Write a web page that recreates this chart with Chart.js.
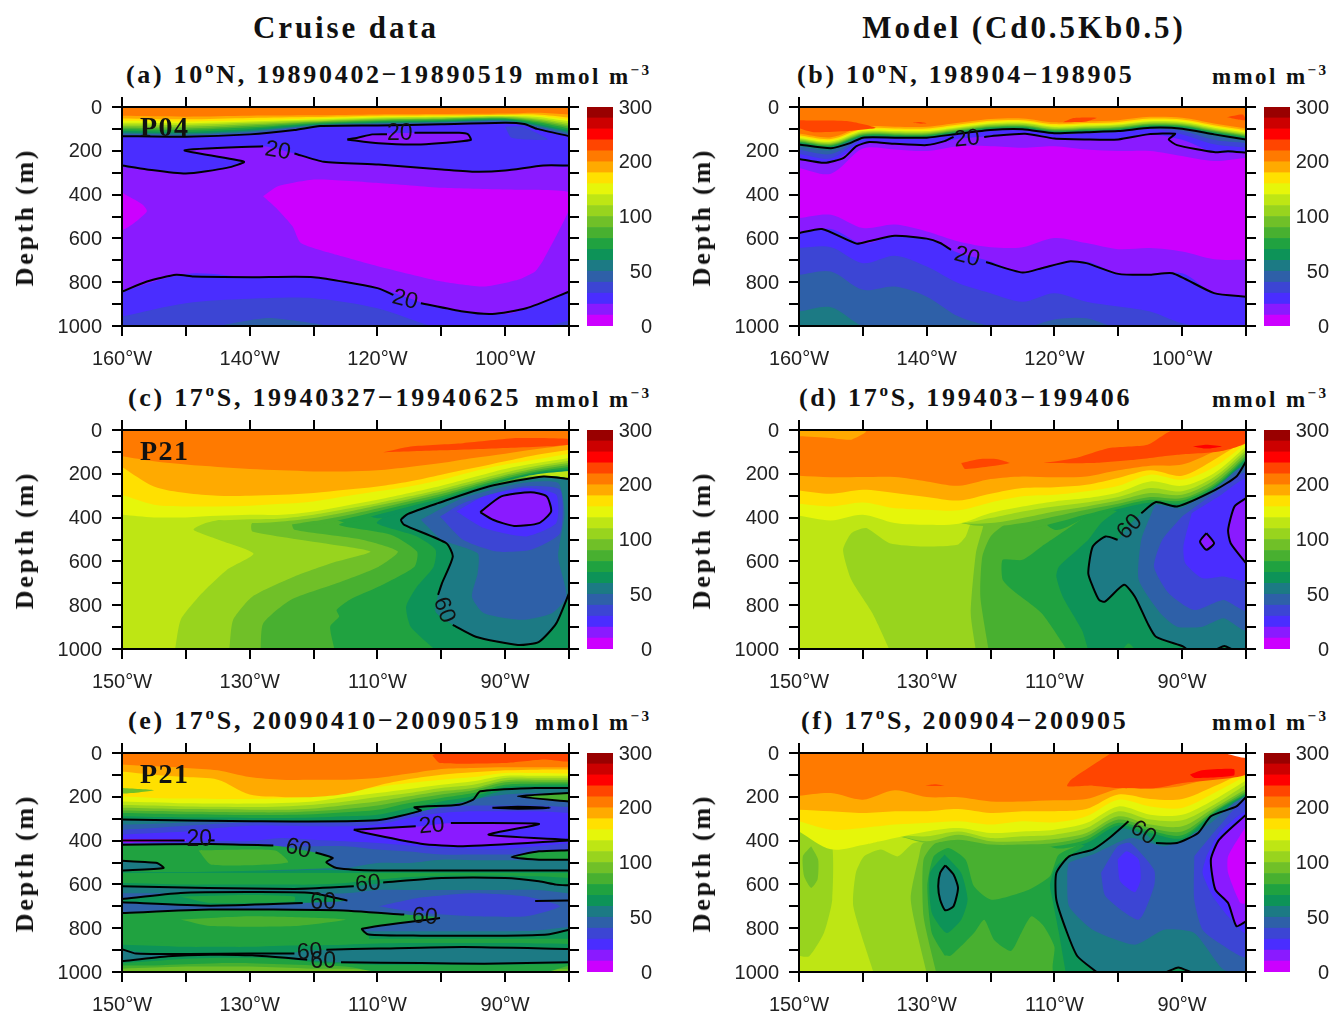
<!DOCTYPE html>
<html>
<head>
<meta charset="utf-8">
<title>Cruise data and model sections</title>
<script src="https://cdn.jsdelivr.net/npm/chart.js@4"></script>
<style>
  body { margin: 0; background: #fff; width: 1333px; height: 1012px; position: relative; overflow: hidden; }
  canvas { position: absolute; }
  .txt { position: absolute; white-space: nowrap; color: #111; font-family: "Liberation Serif", serif; line-height: 1; font-weight: bold; }
  .head { font-size: 31px; letter-spacing: 2.9px; }
  .ttl { font-size: 26px; letter-spacing: 2.7px; }
  .unit { font-size: 23px; letter-spacing: 2.4px; }
  .depth { font-size: 26px; letter-spacing: 2.8px; transform: translate(-50%, -50%) rotate(-90deg); }
  sup { font-size: 66%; line-height: 0; }
</style>
</head>
<body>
<script>
// colour bar: 20 bands, index 1 is the lowest
const bandColors = ['#ffffff', '#CC00FF', '#8A1AFF', '#4A2DFF', '#3C45D4', '#2E60A8', '#1C7A84', '#0D9358', '#20A240', '#48B030',
  '#70C028', '#98D41E', '#BEE614', '#E6F60A', '#FFE000', '#FFAA00', '#FF7A00', '#FF4500', '#FF0000', '#CC0000', '#990000'];
const barTicks = ['0', '50', '100', '200', '300'];
const depthTicks = [0, 200, 400, 600, 800, 1000];

const T = 'top', B = 'bottom', S = 'shape';

// ---- panel a
const lonsA = [160, 150, 140, 130, 120, 110, 100, 95, 90];
const layersA = [
  [3, B, [843, 762, 777, 777, 827, 919, 945, 904, 843]],
  [4, B, [957, 896, 876, 873, 919, 1010, 1010, 1010, 975]],
  [5, S, [146, 1005, 137, 963, 127, 1005]],
  [1, S, [137.9, 408, 135.6, 362, 129.7, 331, 119.8, 347, 109.9, 369, 100, 377, 90, 389, 90, 469, 94, 698, 95.3, 751, 98, 789, 103.3, 820, 109.9, 797, 119.8, 728, 126.4, 675, 132, 621, 133.3, 545, 135.6, 469]],
  [1, S, [160, 392, 156.8, 445, 156.1, 476, 158.1, 530, 160, 560]],
  [3, S, [160, 0, 160, 267, 156.1, 285, 150, 304, 143.6, 278, 140.9, 250, 150.2, 198, 137.9, 179, 133, 212, 128.4, 250, 119.8, 263, 109.9, 285, 104.6, 296, 100, 290, 94, 267, 90, 267, 90, 0]],
  [2, S, [124.7, 148, 120.8, 125, 114.2, 118, 107.2, 118, 105.8, 125, 105.4, 151, 113.2, 171, 119.8, 166]],
  [4, S, [100, 90, 97.3, 90, 93.3, 148, 99, 140]],
  [4, T, [133, 136, 125, 95, 84, 79, 72, 100, 133]],
  [5, T, [128, 131, 119, 90, 80, 75, 68, 94, 127]],
  [6, T, [122, 126, 113, 86, 76, 71, 64, 88, 120]],
  [7, T, [116, 120, 107, 82, 72, 67, 60, 82, 113]],
  [8, T, [110, 113, 100, 78, 68, 63, 56, 76, 106]],
  [9, T, [102, 105, 93, 74, 64, 59, 53, 70, 98]],
  [10, T, [95, 98, 86, 70, 60, 55, 50, 64, 90]],
  [11, T, [88, 90, 79, 66, 56, 52, 47, 58, 82]],
  [12, T, [80, 82, 72, 62, 52, 48, 44, 52, 74]],
  [13, T, [72, 74, 66, 57, 48, 45, 41, 46, 66]],
  [14, T, [63, 66, 59, 52, 44, 42, 38, 40, 58]],
  [15, T, [52, 56, 50, 46, 40, 38, 35, 34, 48]],
  [16, T, [40, 44, 40, 38, 34, 32, 30, 26, 34]]
];
const contoursA = [
  [160, 133, 150, 136, 140, 125, 133, 105, 129, 87, 120, 84, 110, 79, 100, 72, 97, 78, 95, 100, 90, 133],
  [124.7, 148, 123.1, 140, 120.8, 125, 118.5, 124],
  [114.2, 118, 107.2, 118, 105.8, 125, 105.4, 151, 113.2, 171, 119.8, 166, 124.7, 148],
  [160, 267, 156.1, 285, 150, 304, 143.6, 278, 140.9, 250, 150.2, 198, 137.9, 179],
  [133, 212, 128.4, 250, 119.8, 263, 109.9, 285, 104.6, 296, 100, 290, 94, 267, 90, 267],
  [160, 843, 156.1, 797, 151.5, 766, 148.8, 774, 139.6, 777, 130, 777, 120, 827, 117.5, 858],
  [113.2, 896, 106.6, 934, 102, 945, 96.7, 919, 90, 843]
];
const labelsA = [['20', 116.5, 123, 0], ['20', 135.6, 201, 10], ['20', 115.7, 881, 15]];

// ---- panel b
const lonsB = [160, 155, 150, 145, 140, 135, 130, 125, 120, 115, 110, 105, 100, 95, 90];
const layersB = [
  [2, B, [507, 492, 553, 537, 568, 614, 640, 640, 598, 621, 649, 644, 660, 695, 698]],
  [3, B, [576, 557, 624, 588, 601, 667, 705, 756, 721, 705, 762, 766, 759, 850, 866]],
  [4, B, [644, 640, 713, 679, 728, 805, 850, 889, 850, 889, 911, 934, 988, 1010, 1010]],
  [5, B, [766, 751, 835, 820, 866, 957, 1000, 1010, 970, 965, 1010, 1010, 1010, 1010, 1010]],
  [6, B, [934, 914, 1000, 1010, 1010, 1010, 1010, 1010, 1010, 1010, 1010, 1010, 1010, 1010, 1010]],
  [2, T, [278, 305, 190, 194, 201, 179, 179, 186, 179, 194, 201, 201, 224, 247, 232]],
  [3, T, [237, 250, 170, 165, 174, 145, 133, 122, 144, 148, 148, 125, 150, 206, 206]],
  [4, T, [215, 235, 150, 145, 145, 125, 110, 106, 125, 120, 115, 100, 125, 170, 185]],
  [5, T, [195, 215, 145, 142, 142, 124, 108, 104, 123, 118, 113, 98, 108, 150, 165]],
  [6, T, [180, 197, 142, 141, 141, 123, 106, 103, 121, 116, 111, 96, 101, 132, 152]],
  [7, T, [167, 184, 136, 136, 136, 118, 101, 98, 116, 111, 106, 91, 95, 121, 144]],
  [8, T, [163, 180, 132, 132, 132, 114, 97, 94, 112, 107, 102, 87, 91, 117, 140]],
  [9, T, [159, 176, 128, 128, 128, 110, 93, 90, 108, 103, 98, 83, 87, 113, 136]],
  [10, T, [155, 172, 124, 124, 124, 106, 89, 86, 104, 99, 94, 79, 83, 109, 132]],
  [11, T, [151, 168, 120, 120, 120, 102, 85, 82, 100, 95, 90, 75, 79, 105, 128]],
  [12, T, [146, 163, 115, 115, 115, 97, 80, 77, 95, 90, 85, 70, 74, 100, 123]],
  [13, T, [141, 158, 110, 110, 110, 92, 75, 72, 90, 85, 80, 65, 69, 95, 118]],
  [14, T, [135, 152, 104, 104, 104, 86, 69, 66, 84, 79, 74, 59, 63, 89, 112]],
  [15, T, [129, 146, 98, 98, 98, 80, 63, 60, 78, 73, 68, 53, 57, 83, 106]],
  [16, T, [121, 138, 90, 90, 90, 72, 55, 52, 70, 65, 60, 45, 49, 75, 98]],
  [17, S, [160, 61, 152.5, 64, 148, 95, 152.5, 110, 157.7, 115, 160, 95]],
  [17, S, [142.5, 72, 141, 68, 140, 74, 141, 76]],
  [17, S, [118.7, 70, 117, 50, 113.4, 49, 115, 66]],
  [17, S, [93, 46, 90.5, 34, 90, 60, 91.5, 56]]
];
const contoursB = [
  [160, 171, 155, 188, 152, 165, 150, 140, 145, 140, 140, 140, 135, 122, 130, 105, 125, 102, 120, 120, 115, 115, 110, 110, 105, 95, 100, 99, 95, 125, 90, 148],
  [160, 237, 156, 255, 153, 232, 151, 179, 149, 160, 145, 168, 140, 174, 137.2, 156, 135.8, 136],
  [131, 137, 129.9, 133, 124.6, 122, 120, 144, 115, 148, 110, 148, 105.4, 125, 101.1, 122, 102.1, 148, 100.8, 174, 95, 206, 92.8, 202, 90, 209],
  [160, 576, 156.4, 557, 151, 624, 149.1, 613, 145, 588, 140, 601, 137.9, 621, 136.2, 652],
  [130.7, 708, 125, 756, 122, 736, 117.7, 705, 115, 713, 110, 762, 105, 766, 101.5, 759, 95, 850, 90, 866]
];
const labelsB = [['20', 133.7, 146, -5], ['20', 133.7, 685, 15]];

// ---- panel c
const lonsC = [150, 145, 140, 135, 130, 125, 120, 115, 110, 105, 100, 95, 90, 85, 80];
const layersC = [
  [11, S, [141.7, 1005, 140.8, 867, 137.5, 746, 133.6, 639, 129.4, 565, 134.9, 501, 138.8, 456, 136.9, 425, 129.6, 380, 80, 227, 80, 1005]],
  [10, S, [133.2, 1005, 132.6, 867, 129.6, 761, 123, 669, 116.4, 601, 111.1, 555, 118.4, 517, 129.6, 463, 129.6, 425, 80, 227, 80, 1005]],
  [9, S, [128.3, 1005, 127.9, 883, 123.6, 776, 116.4, 700, 109.8, 624, 106.8, 555, 112.4, 501, 123, 456, 123.3, 425, 80, 227, 80, 1005]],
  [8, S, [116.7, 1005, 117.4, 898, 116, 852, 116.4, 822, 114.4, 776, 109.8, 715, 104.2, 624, 103.8, 555, 107.8, 479, 116, 433, 109.8, 380, 80, 227, 80, 1005]],
  [7, S, [100.9, 1005, 104.8, 898, 105.5, 806, 103.8, 715, 101.2, 624, 100.9, 547, 103.8, 486, 110.1, 425, 106.5, 364, 80, 227, 80, 1005]],
  [6, S, [80, 224, 84, 212, 92.6, 258, 100.5, 334, 105.2, 383, 106.3, 410, 105.8, 433, 99.2, 517, 98.2, 578, 99.9, 700, 100.5, 753, 100.9, 830, 98.2, 890, 94.6, 944, 88, 982, 84.7, 967, 82, 883, 80, 746]],
  [5, S, [103.2, 410, 96.6, 311, 87.3, 242, 81.7, 242, 80.7, 380, 81.7, 578, 80.4, 761, 82.7, 837, 87.3, 867, 93.3, 837, 95.2, 761, 94.3, 654, 94.3, 563, 99.9, 501]],
  [4, S, [100.2, 395, 96.6, 334, 87.3, 258, 81.4, 273, 81.4, 471, 86, 547, 91.3, 555, 96.6, 501]],
  [3, S, [97.6, 372, 93.3, 303, 86.7, 265, 82, 296, 82, 425, 86.7, 486, 93.3, 448]],
  [2, S, [93.9, 375, 90.6, 303, 86, 284, 83.5, 303, 82.8, 372, 84.7, 425, 88.6, 438, 91.9, 410]],
  [7, T, [330, 330, 330, 330, 330, 330, 330, 340, 403, 361, 322, 276, 233, 202, 187]],
  [8, T, [330, 330, 330, 330, 330, 330, 360, 423, 387, 349, 313, 269, 227, 195, 178]],
  [9, T, [330, 330, 330, 330, 330, 380, 432, 405, 372, 337, 302, 261, 222, 189, 169]],
  [10, T, [330, 330, 330, 330, 380, 431, 416, 390, 358, 325, 292, 252, 214, 182, 160]],
  [11, T, [330, 330, 330, 385, 423, 418, 402, 376, 345, 315, 281, 243, 205, 173, 151]],
  [12, T, [330, 330, 395, 411, 408, 404, 387, 361, 334, 303, 270, 232, 194, 163, 140]],
  [13, T, [387, 399, 399, 392, 387, 387, 372, 346, 319, 288, 255, 216, 178, 151, 128]],
  [14, T, [296, 341, 349, 349, 346, 337, 326, 303, 280, 258, 227, 189, 158, 133, 108]],
  [15, T, [169, 258, 288, 300, 300, 296, 288, 273, 258, 235, 204, 174, 143, 113, 90]],
  [16, T, [120, 143, 158, 169, 178, 184, 189, 189, 184, 169, 151, 128, 108, 87, 67]],
  [17, S, [109.1, 102, 104.8, 75, 96.6, 60, 88, 37, 80, 41, 80, 67, 90, 82, 99.9, 93]]
];
const contoursC = [
  [80, 224, 84, 212, 92.6, 258, 100.5, 334, 105.2, 383, 106.3, 410, 105.8, 433, 99.2, 517, 98.2, 578, 99.9, 700, 100.5, 753],
  [98.2, 890, 94.6, 944, 88, 982, 84.7, 967, 82, 883, 80, 746],
  [93.9, 375, 90.6, 303, 86, 284, 83.5, 303, 82.8, 372, 84.7, 425, 88.6, 438, 91.9, 410, 93.9, 375]
];
const labelsC = [['60', 99.6, 822, 70]];

// ---- panel d
const lonsD = [150, 145, 140, 135, 130, 125, 120, 115, 110, 105, 100, 95, 90, 85, 80];
const layersD = [
  [11, S, [135.8, 1005, 138.5, 837, 141.8, 684, 143.1, 547, 141.8, 471, 139.5, 448, 135.8, 517, 130.5, 532, 125.2, 524, 123.9, 486, 122.6, 408, 80, 100, 80, 1005]],
  [10, S, [122.3, 1005, 123.1, 837, 122.3, 563, 121.3, 456, 120.6, 403, 80, 75, 80, 1005]],
  [9, S, [120.3, 1005, 121.6, 761, 121.3, 578, 120, 486, 117.3, 425, 80, 75, 80, 1005]],
  [8, S, [108, 1005, 112, 837, 116.3, 738, 118.1, 684, 118.1, 593, 115, 593, 112, 532, 107.4, 441, 105, 395, 100, 349, 80, 100, 80, 1005]],
  [7, S, [104.7, 1005, 105.7, 913, 108.7, 761, 109.7, 669, 109.3, 624, 104.7, 501, 102.7, 425, 100, 368, 95.4, 326, 80, 100, 80, 1005]],
  [8, S, [99.4, 1005, 98.4, 974, 97.4, 1005]],
  [6, S, [80, 143, 81.5, 212, 84.8, 273, 90.8, 349, 94.1, 329, 96.4, 380, 98.5, 440, 100.1, 501, 102, 486, 104, 532, 104.7, 654, 104, 715, 103, 776, 102.1, 784, 99.1, 707, 97.4, 761, 95.4, 883, 94.1, 944, 89.8, 989, 89.1, 1012, 80, 1012]],
  [7, S, [84.5, 1005, 83.4, 986, 82.3, 1005]],
  [5, S, [94.8, 380, 96.4, 501, 96.8, 684, 93.4, 837, 90.8, 898, 86.8, 898, 83.5, 860, 80, 913, 80, 166, 84.2, 242, 90.1, 357, 94.1, 341]],
  [4, S, [90, 395, 93.1, 501, 94.4, 624, 92.1, 745, 88.1, 822, 83.5, 776, 80, 822, 80, 197, 84.2, 273]],
  [3, S, [88.5, 380, 89.8, 532, 89.5, 608, 86.8, 677, 83.5, 669, 80, 684, 80, 227, 84.2, 303]],
  [2, S, [80, 311, 81.8, 349, 82.8, 456, 82.4, 517, 80, 608]],
  [2, S, [86.2, 471, 87.2, 509, 86.2, 547, 85, 517]],
  [7, T, [330, 330, 330, 330, 330, 330, 330, 320, 310, 300, 372, 335, 345, 268, 140]],
  [8, T, [330, 330, 330, 330, 330, 330, 330, 320, 455, 400, 361, 331, 334, 262, 133]],
  [9, T, [330, 330, 330, 330, 330, 330, 370, 450, 425, 385, 349, 319, 322, 255, 125]],
  [10, T, [330, 330, 330, 330, 330, 420, 440, 425, 395, 364, 337, 306, 311, 245, 115]],
  [11, T, [330, 330, 330, 330, 330, 420, 425, 402, 372, 349, 322, 288, 296, 230, 103]],
  [12, T, [330, 330, 330, 330, 330, 420, 402, 372, 349, 331, 306, 265, 280, 215, 90]],
  [13, T, [392, 413, 387, 425, 433, 428, 379, 349, 326, 311, 285, 235, 255, 197, 75]],
  [14, T, [337, 349, 331, 357, 364, 367, 331, 303, 296, 280, 255, 204, 227, 169, 60]],
  [15, T, [276, 291, 273, 288, 306, 322, 291, 265, 261, 250, 219, 184, 209, 136, 45]],
  [16, T, [209, 216, 215, 215, 235, 255, 224, 212, 216, 212, 184, 163, 158, 98, 30]],
  [17, S, [124.6, 151, 121.9, 133, 118.9, 133, 117, 151, 120, 166, 124, 178]],
  [17, S, [111.7, 151, 106.7, 128, 101.4, 82, 95.4, 67, 91.5, 2, 80, 0, 80, 59, 84.2, 98, 90.8, 113, 97.4, 136, 104, 151]],
  [18, S, [88.3, 75, 86.2, 67, 83.8, 75, 86.2, 85]],
  [15, S, [150, 29, 145.1, 37, 141.8, 44, 139.5, 6, 150, 0]]
];
const contoursD = [
  [80, 143, 81.5, 212, 84.8, 273, 90.8, 349, 94.1, 329, 96.4, 380],
  [100.1, 501, 102, 486, 104, 532, 104.7, 654, 104, 715, 103, 776, 102.1, 784, 99.1, 707, 97.4, 761, 95.4, 883, 94.1, 944, 89.8, 989, 89.1, 1005],
  [80, 311, 81.8, 349, 82.8, 456, 82.4, 517, 80, 608],
  [86.2, 471, 87.2, 509, 86.2, 547, 85, 517, 86.2, 471],
  [84.5, 1000, 83.4, 986, 82.3, 1000]
];
const labelsD = [['60', 98.2, 443, -45]];

// ---- panel e
const lonsE = [150, 145, 140, 135, 130, 125, 120, 115, 110, 105, 100, 95, 90, 85, 80];
const layersE = [
  [9, T, [985, 980, 975, 975, 975, 980, 985, 985, 990, 995, 995, 995, 995, 990, 985]],
  [8, T, [970, 970, 965, 960, 960, 965, 970, 975, 1000, 1010, 1010, 1010, 1010, 1010, 970]],
  [7, T, [960, 950, 940, 935, 935, 940, 955, 962, 968, 968, 968, 968, 968, 966, 964]],
  [6, T, [951, 936, 925, 921, 922, 928, 947, 956, 956, 959, 959, 961, 962, 959, 956]],
  [7, T, [898, 916, 916, 916, 916, 916, 901, 898, 893, 890, 889, 887, 890, 893, 895]],
  [8, T, [875, 880, 885, 885, 885, 880, 878, 875, 870, 868, 868, 868, 868, 870, 872]],
  [7, T, [850, 850, 850, 850, 850, 850, 852, 850, 848, 848, 848, 848, 848, 848, 848]],
  [6, T, [834, 834, 834, 834, 834, 834, 834, 834, 830, 834, 834, 834, 834, 832, 807]],
  [5, T, [814, 814, 814, 814, 814, 814, 814, 814, 814, 814, 814, 814, 814, 810, 795]],
  [6, T, [640, 640, 640, 640, 640, 640, 640, 640, 625, 625, 625, 625, 625, 625, 640]],
  [7, T, [609, 613, 618, 621, 622, 622, 621, 612, 597, 583, 571, 568, 571, 586, 604]],
  [8, T, [594, 597, 601, 601, 601, 601, 601, 594, 578, 566, 560, 560, 560, 563, 571]],
  [7, T, [548, 548, 548, 548, 548, 548, 548, 548, 548, 548, 548, 548, 548, 548, 548]],
  [6, T, [537, 537, 537, 537, 537, 537, 533, 536, 536, 536, 536, 536, 536, 536, 536]],
  [5, T, [525, 525, 525, 525, 525, 525, 525, 525, 502, 502, 487, 490, 490, 490, 490]],
  [4, T, [426, 426, 426, 426, 426, 426, 426, 426, 441, 450, 464, 464, 464, 464, 464]],
  [3, T, [411, 408, 405, 402, 402, 388, 396, 403, 411, 422, 434, 438, 438, 426, 411]],
  [4, T, [373, 365, 358, 343, 332, 332, 335, 335, 327, 297, 274, 266, 266, 266, 274]],
  [5, T, [350, 342, 332, 323, 317, 317, 317, 317, 307, 274, 251, 240, 240, 240, 247]],
  [6, T, [327, 323, 317, 312, 310, 312, 310, 307, 304, 266, 240, 213, 190, 183, 183]],
  [7, T, [304, 307, 309, 310, 312, 312, 310, 309, 307, 280, 244, 213, 170, 160, 160]],
  [8, T, [289, 292, 294, 295, 297, 297, 295, 289, 282, 251, 221, 198, 155, 149, 149]],
  [9, T, [274, 277, 280, 282, 283, 283, 280, 271, 259, 228, 205, 183, 145, 140, 140]],
  [10, T, [262, 265, 268, 269, 271, 271, 266, 256, 240, 213, 190, 170, 134, 131, 131]],
  [11, T, [250, 253, 256, 257, 259, 259, 253, 237, 221, 198, 175, 160, 125, 122, 122]],
  [12, T, [237, 240, 244, 245, 247, 244, 236, 221, 201, 183, 160, 145, 114, 113, 113]],
  [13, T, [221, 225, 230, 231, 231, 228, 221, 201, 183, 164, 145, 129, 104, 104, 104]],
  [14, T, [198, 205, 208, 210, 210, 207, 198, 180, 155, 137, 122, 110, 91, 91, 94]],
  [15, T, [84, 99, 110, 122, 190, 201, 201, 186, 149, 119, 99, 88, 79, 76, 76]],
  [16, T, [53, 61, 68, 79, 110, 122, 122, 122, 114, 94, 73, 68, 65, 65, 65]],
  [17, S, [101.4, 11, 100.2, 46, 90, 46, 84, 30, 80, 38, 80, 0, 100.5, 0]],
  [10, S, [150, 160, 145, 170, 150, 185]],
  [4, S, [109.8, 700, 103.2, 660, 95, 640, 86.7, 655, 81.4, 700, 86.7, 746, 95, 746, 103.2, 730]],
  [8, S, [150, 731, 136.2, 715, 116.4, 718, 105.8, 738, 100.2, 753, 112.4, 802, 111.4, 829, 111.4, 855, 150, 855]],
  [9, S, [140.8, 760, 129.6, 745, 115, 760, 123, 790, 136.2, 790]],
  [7, S, [150, 667, 140.8, 639, 130.3, 635, 120.3, 639, 114.7, 674, 121.7, 685, 136.2, 697, 150, 682]],
  [8, S, [140.8, 655, 130.3, 648, 123, 655, 123, 678, 136.2, 685]],
  [8, S, [150, 419, 136.2, 415, 126.3, 422, 119.7, 454, 117, 479, 118, 498, 116.4, 525, 150, 536]],
  [9, S, [138, 445, 126, 445, 124, 500, 136, 510]],
  [6, S, [150, 492, 146.4, 498, 144.5, 502, 143.5, 525, 150, 536]],
  [1, S, [150, 393, 140, 396, 140, 402, 150, 408]],
  [2, S, [113.7, 350, 103.2, 335, 98.5, 320, 84.7, 324, 92.6, 373, 80, 396, 80, 400, 96.6, 426, 103.2, 414, 112.4, 362]],
  [9, S, [80, 183, 88, 198, 80, 221]],
  [8, S, [80, 444, 84.7, 449, 89, 475, 84.7, 487, 80, 487]]
];
const contoursE = [
  [150, 951, 142.8, 928, 136.2, 921, 129.6, 924, 121, 944],
  [115.7, 956, 103.2, 959, 93.3, 962, 80, 956],
  [150, 896, 147.8, 916, 139.5, 918, 129.6, 916, 123, 916],
  [118, 898, 109.8, 893, 96.6, 886, 80, 895],
  [100.2, 753, 112.4, 802, 111.4, 829, 103.2, 834, 90, 834, 83.4, 829, 80, 807],
  [150, 731, 136.2, 715, 116.4, 718, 105.8, 738],
  [150, 682, 136.2, 697, 121.7, 685],
  [150, 667, 140.8, 639, 130.3, 635, 120.3, 639, 114.7, 674],
  [150, 609, 123, 621, 113.7, 609],
  [109.1, 591, 99.9, 571, 90, 571, 84.7, 586, 82, 601, 80, 604],
  [150, 492, 146.4, 498, 144.5, 502, 143.5, 525, 150, 536],
  [150, 419, 136.2, 415, 126.3, 422],
  [119.7, 454, 117, 479, 118, 498, 116.4, 525, 110, 536, 80, 536],
  [150, 399, 140.2, 399],
  [136.5, 399, 135.5, 399],
  [113.7, 350, 104, 335],
  [98.5, 320, 84.7, 324, 92.6, 373, 80, 396],
  [80, 400, 96.6, 426, 103.2, 414, 112.4, 362, 113.7, 350],
  [150, 304, 129.6, 312, 110, 307, 103.2, 263, 104.2, 248, 97.2, 236, 95, 213, 93.9, 175, 85.3, 160, 80, 160],
  [80, 183, 88, 198, 80, 221],
  [92, 250, 88, 245, 83, 250, 88, 254, 92, 250],
  [80, 444, 84.7, 449, 89, 475, 84.7, 487, 80, 487],
  [85.3, 676, 80, 674]
];
const labelsE = [['20', 137.9, 397, 0], ['60', 122.4, 438, 15], ['20', 101.5, 333, -5], ['60', 111.5, 598, -5],
  ['60', 118.5, 685, 0], ['60', 102.6, 749, 5], ['60', 120.6, 909, -5], ['60', 118.5, 954, 0]];

// ---- panel f
const lonsF = [150, 145, 140, 135, 130, 125, 120, 115, 110, 105, 100, 95, 90, 85, 80];
const layersF = [
  [11, S, [150, 358, 145.1, 380, 144.8, 670, 146.1, 822, 148.4, 928, 150, 921]],
  [10, S, [148.1, 426, 147, 487, 147.1, 578, 148.1, 616, 149.2, 563, 149.4, 472]],
  [11, S, [138.3, 1005, 141.5, 700, 141.1, 548, 139.8, 472, 137.2, 441, 134.5, 472, 132, 411, 80, 100, 80, 1005]],
  [10, S, [130, 1005, 132.5, 670, 131.2, 472, 130.5, 411, 80, 100, 80, 1005]],
  [9, S, [128.5, 1005, 130.5, 746, 130.5, 487, 128.5, 411, 80, 100, 80, 1005]],
  [8, S, [127.2, 925, 129.2, 822, 129.9, 609, 128.9, 472, 126.6, 434, 123.9, 487, 122.6, 609, 119.9, 670, 114, 624, 110.7, 563, 109.3, 464, 104, 396, 80, 100, 80, 1005, 110, 1005, 110, 885, 111.7, 790, 113.6, 746, 115.2, 822, 116.8, 904, 119.4, 855, 121, 761, 122.6, 822, 126.2, 925]],
  [7, S, [127.2, 464, 124.6, 548, 123.6, 670, 124.6, 761, 126.9, 822, 129.2, 730, 129.5, 548]],
  [6, S, [127.1, 513, 125.8, 555, 125.1, 616, 125.8, 700, 127.1, 718, 127.9, 670, 128.2, 609, 127.9, 548]],
  [7, S, [108.2, 1005, 109.3, 822, 110.3, 670, 110.7, 601, 109.7, 517, 105.4, 426, 98.1, 304, 80, 61, 80, 1005]],
  [6, S, [103.4, 1005, 106.4, 928, 108, 822, 109.7, 670, 109.7, 548, 107.7, 472, 104, 441, 101.4, 388, 98.4, 312, 96, 360, 94.1, 411, 90.8, 411, 87.5, 365, 85.5, 289, 81.5, 244, 80, 201, 80, 1005]],
  [7, S, [92.4, 1005, 90.6, 979, 88.7, 1005]],
  [5, S, [108, 548, 107.7, 700, 104, 807, 97.4, 875, 92.8, 807, 88.1, 822, 83.5, 990, 80, 997, 80, 198, 85.5, 320, 89.5, 388, 92.8, 426, 98.1, 388, 104, 464, 107.7, 502]],
  [4, S, [102.7, 548, 100.1, 426, 98.1, 411, 94.4, 533, 94.4, 609, 96.8, 761, 102, 654]],
  [4, S, [88.1, 472, 84.2, 335, 80, 213, 80, 929, 84.2, 868, 86.8, 807, 88.1, 670]],
  [3, S, [100.1, 487, 98.7, 449, 96.8, 487, 96.5, 578, 97.4, 636, 99.7, 586]],
  [3, S, [86.2, 472, 84.2, 365, 80, 274, 80, 822, 82.8, 746, 85.2, 654, 86.8, 548]],
  [2, S, [80, 282, 84.2, 396, 85.5, 487, 84.8, 624, 82.8, 685, 81.5, 791, 80, 769]],
  [1, S, [80, 335, 82.8, 472, 82.8, 548, 80.9, 685, 80, 685]],
  [7, T, [350, 400, 415, 380, 350, 335, 355, 350, 340, 423, 344, 376, 402, 279, 196]],
  [8, T, [350, 400, 415, 380, 350, 335, 355, 350, 434, 411, 331, 365, 389, 274, 190]],
  [9, T, [350, 400, 415, 380, 350, 414, 434, 434, 426, 396, 319, 354, 376, 269, 184]],
  [10, T, [350, 400, 415, 380, 411, 396, 418, 418, 411, 380, 304, 342, 358, 262, 175]],
  [11, T, [350, 400, 415, 380, 403, 373, 403, 403, 393, 365, 289, 327, 335, 251, 164]],
  [12, T, [350, 400, 415, 380, 380, 358, 388, 380, 373, 343, 266, 304, 307, 236, 144]],
  [13, T, [358, 440, 420, 388, 358, 342, 365, 358, 350, 320, 244, 282, 282, 213, 125]],
  [14, T, [312, 350, 342, 327, 320, 312, 327, 312, 317, 289, 213, 244, 251, 183, 104]],
  [15, T, [259, 266, 274, 266, 266, 256, 274, 266, 266, 256, 190, 210, 210, 152, 84]],
  [16, T, [195, 183, 213, 170, 201, 202, 221, 221, 216, 210, 164, 164, 149, 107, 68]],
  [17, S, [101.1, 0, 107.4, 122, 108, 152, 104, 149, 100, 160, 94.1, 160, 90, 137, 80, 99, 80, 15, 82.8, 0]],
  [18, S, [88.8, 99, 86.9, 79, 81.9, 73, 81.9, 103, 88, 114]],
  [17, S, [130.2, 149, 128.7, 143, 127.2, 151]],
  [0, S, [83.5, 0, 80, 0, 80, 23]]
];
const contoursF = [
  [127.1, 513, 125.8, 555, 125.1, 616, 125.8, 700, 127.1, 718, 127.9, 670, 128.2, 609, 127.9, 548, 127.1, 513],
  [103.4, 1000, 106.4, 928, 108, 822, 109.7, 670, 109.7, 548, 107.7, 472, 104, 441, 101.4, 388, 98.4, 312],
  [94.1, 411, 90.8, 411, 87.5, 365, 85.5, 289, 81.5, 244, 80, 201],
  [92.4, 1000, 90.6, 979, 88.7, 1000],
  [80, 282, 84.2, 396, 85.5, 487, 84.8, 624, 82.8, 685, 81.5, 791, 80, 769]
];
const labelsF = [['60', 96.1, 365, 35]];

// ---- headings and page layout
const columnHeads = [['Cruise data', 346], ['Model (Cd0.5Kb0.5)', 1024]];
const panelTitles = [
  ['(a) 10<sup>o</sup>N, 19890402\u221219890519', 126, 62],
  ['(b) 10<sup>o</sup>N, 198904\u2212198905', 797, 62],
  ['(c) 17<sup>o</sup>S, 19940327\u221219940625', 128, 385],
  ['(d) 17<sup>o</sup>S, 199403\u2212199406', 799, 385],
  ['(e) 17<sup>o</sup>S, 20090410\u221220090519', 128, 708],
  ['(f) 17<sup>o</sup>S, 200904\u2212200905', 801, 708]
];
const panels = [
  { id: 'a', lons: lonsA, base: 2, layers: layersA, contours: contoursA, labels: labelsA, left: 122, top: 107, west: 160, station: ['P04', 153.3, 100] },
  { id: 'b', lons: lonsB, base: 1, layers: layersB, contours: contoursB, labels: labelsB, left: 799, top: 107, west: 160 },
  { id: 'c', lons: lonsC, base: 12, layers: layersC, contours: contoursC, labels: labelsC, left: 122, top: 430, west: 150, station: ['P21', 143.3, 105] },
  { id: 'd', lons: lonsD, base: 12, layers: layersD, contours: contoursD, labels: labelsD, left: 799, top: 430, west: 150 },
  { id: 'e', lons: lonsE, base: 10, layers: layersE, contours: contoursE, labels: labelsE, left: 122, top: 753, west: 150, station: ['P21', 143.3, 105] },
  { id: 'f', lons: lonsF, base: 12, layers: layersF, contours: contoursF, labels: labelsF, left: 799, top: 753, west: 150 }
];

const PLOT_W = 447, PLOT_H = 219, AXIS_L = 122, AXIS_R = 12, AXIS_T = 12, AXIS_B = 45;
const tickFont = { family: '"Liberation Sans"', size: 20 };

function addText(html, cls, left, top) {
  const d = document.createElement('div');
  d.className = 'txt ' + cls;
  d.innerHTML = html;
  d.style.left = left + 'px';
  d.style.top = top + 'px';
  document.body.appendChild(d);
  return d;
}

function addCanvas(left, top, w, h) {
  const c = document.createElement('canvas');
  c.width = w; c.height = h;
  c.style.left = left + 'px'; c.style.top = top + 'px';
  document.body.appendChild(c);
  return c;
}

const pairs = flat => {
  const out = [];
  for (let i = 0; i < flat.length; i += 2) out.push({ x: flat[i], y: flat[i + 1] });
  return out;
};

function buildDatasets(p) {
  const sets = [];
  const east = p.west - 70;
  sets.push({ data: [{ x: p.west, y: 1000 }, { x: east, y: 1000 }], fill: { value: 0 }, backgroundColor: bandColors[p.base], borderWidth: 0, tension: 0 });
  p.layers.forEach(([c, kind, vals]) => {
    if (kind === S) {
      const pts = pairs(vals);
      pts.push(pts[0]);
      sets.push({ data: pts, fill: 'shape', backgroundColor: bandColors[c], borderWidth: 0, tension: 0.2 });
    } else {
      sets.push({
        data: p.lons.map((x, i) => ({ x, y: vals[i] })),
        fill: { value: kind === T ? 0 : 1000 },
        backgroundColor: bandColors[c], borderWidth: 0, tension: 0.3
      });
    }
  });
  p.contours.forEach(vals => {
    sets.push({ data: pairs(vals), fill: false, borderColor: '#000', borderWidth: 2, tension: 0.2 });
  });
  const n = sets.length;
  sets.forEach((s, i) => {
    s.order = n - i;
    s.pointRadius = 0;
    s.xAxisID = 'x';
    s.yAxisID = 'y';
  });
  return sets;
}

// fixed axis sizes so that every plot area lands on the same box
const fixH = h => s => { s.height = h; s.paddingLeft = 0; s.paddingRight = 0; };
const fixW = w => s => { s.width = w; s.paddingTop = 0; s.paddingBottom = 0; };

const contourText = p => ({
  id: 'contourText' + p.id,
  afterDatasetsDraw(chart) {
    const ctx = chart.ctx, xs = chart.scales.x, ys = chart.scales.y;
    ctx.save();
    ctx.textAlign = 'center';
    ctx.textBaseline = 'middle';
    ctx.fillStyle = '#111';
    ctx.font = '23px "Liberation Sans"';
    p.labels.forEach(([txt, lon, dep, rot]) => {
      ctx.save();
      ctx.translate(xs.getPixelForValue(lon), ys.getPixelForValue(dep));
      ctx.rotate(rot * Math.PI / 180);
      ctx.fillText(txt, 0, 0);
      ctx.restore();
    });
    if (p.station) {
      ctx.font = 'bold 28px "Liberation Serif"';
      ctx.letterSpacing = '1.5px';
      ctx.fillText(p.station[0], xs.getPixelForValue(p.station[1]), ys.getPixelForValue(p.station[2]));
    }
    ctx.restore();
  }
});

function drawPanel(p) {
  const east = p.west - 70;
  const canvas = addCanvas(p.left - AXIS_L, p.top - AXIS_T, AXIS_L + PLOT_W + AXIS_R, AXIS_T + PLOT_H + AXIS_B);
  const tickGrid = { drawOnChartArea: false, tickLength: 10, tickColor: '#000', lineWidth: 2, tickWidth: 2 };
  const frame = { color: '#000', width: 2, z: 2 };
  const xCommon = { type: 'linear', min: east, max: p.west, reverse: true, grid: tickGrid, border: frame };
  const yCommon = { type: 'linear', min: 0, max: 1000, reverse: true, grid: tickGrid, border: frame };
  new Chart(canvas, {
    type: 'line',
    data: { datasets: buildDatasets(p) },
    options: {
      responsive: false, animation: false, parsing: { xAxisKey: 'x', yAxisKey: 'y' },
      layout: { autoPadding: false, padding: 0 },
      plugins: { legend: { display: false }, tooltip: { enabled: false }, title: { display: false } },
      scales: {
        x: {
          ...xCommon, position: 'bottom', afterFit: fixH(AXIS_B),
          ticks: {
            stepSize: 10, autoSkip: false, maxRotation: 0, padding: 11, color: '#222', font: tickFont,
            callback: v => ((p.west - v) % 20 === 0 ? v + '\u00b0W' : '')
          }
        },
        x2: { ...xCommon, axis: 'x', position: 'top', afterFit: fixH(AXIS_T), ticks: { stepSize: 10, autoSkip: false, display: false } },
        y: {
          ...yCommon, position: 'left', afterFit: fixW(AXIS_L),
          ticks: {
            stepSize: 100, autoSkip: false, padding: 10, labelOffset: 1, color: '#222', font: tickFont,
            callback: v => (depthTicks.includes(v) ? String(v) : '')
          }
        },
        y2: { ...yCommon, axis: 'y', position: 'right', afterFit: fixW(AXIS_R), ticks: { stepSize: 100, autoSkip: false, display: false } }
      }
    },
    plugins: [contourText(p)]
  });
}

function drawColorBar(p) {
  const canvas = addCanvas(p.left + PLOT_W + 18, p.top - AXIS_T, 65, AXIS_T + PLOT_H + AXIS_B);
  new Chart(canvas, {
    type: 'bar',
    data: {
      labels: [''],
      datasets: bandColors.slice(1).map(col => ({ data: [1], backgroundColor: col, barPercentage: 1, categoryPercentage: 1 }))
    },
    options: {
      responsive: false, animation: false,
      layout: { autoPadding: false, padding: { top: AXIS_T, bottom: AXIS_B } },
      plugins: { legend: { display: false }, tooltip: { enabled: false } },
      scales: {
        x: { stacked: true, display: false },
        y: {
          stacked: true, position: 'right', min: 0, max: 20, afterFit: fixW(39),
          grid: { display: false, drawTicks: false }, border: { display: false },
          ticks: {
            stepSize: 5, autoSkip: false, padding: 1, labelOffset: 1, crossAlign: 'far', color: '#222', font: tickFont,
            callback: v => barTicks[v / 5]
          }
        }
      }
    }
  });
}

columnHeads.forEach(([txt, cx]) => {
  const d = addText(txt, 'head', cx, 12);
  d.style.transform = 'translateX(-50%)';
});
panelTitles.forEach(([html, x, y], i) => {
  addText(html, 'ttl', x, y);
  addText('mmol m<sup>\u22123</sup>', 'unit', i % 2 ? 1212 : 535, y + 3);
});
panels.forEach(p => {
  drawPanel(p);
  drawColorBar(p);
  addText('Depth (m)', 'depth', p.left - 97, p.top + 110);
});
</script>
</body>
</html>
